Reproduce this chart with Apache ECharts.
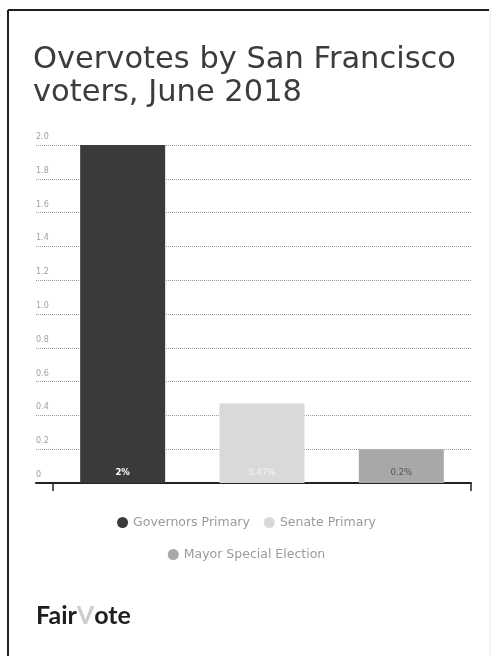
<!DOCTYPE html>
<html>
<head>
<meta charset="utf-8">
<script src="https://cdn.jsdelivr.net/npm/echarts@6/dist/echarts.min.js"></script>
<style>
  html, body { margin: 0; padding: 0; background: #fff; }
  #chart { width: 493px; height: 656px; }
</style>
</head>
<body>
<div id="chart"></div>
<script>
// Overvotes by contest, San Francisco, June 2018 (percent of ballots)
const categories = ['Governors Primary', 'Senate Primary', 'Mayor Special Election'];
const overvotePct = [2, 0.47, 0.2];
const barColors = ['#3b3b3b', '#d9d9d9', '#a8a8a8'];
const labelColors = ['#ffffff', '#f4f4f4', '#555555'];
const yMin = 0, yMax = 2, yStep = 0.2;

const FONT = '"DejaVu Sans", "Noto Sans", sans-serif';
const LOGO_FONT = 'Lato, "Noto Sans", sans-serif';

const chart = echarts.init(document.getElementById('chart'), null, { renderer: 'canvas' });

// one series per contest so each gets its own legend entry; stacked so they share the band
const series = categories.map((name, i) => ({
  name,
  type: 'bar',
  xAxisIndex: 1,
  yAxisIndex: 1,
  stack: 'contests',
  barWidth: 85,
  itemStyle: { color: barColors[i] },
  label: {
    show: true,
    position: 'insideBottom',
    distance: 6,
    color: labelColors[i],
    fontFamily: FONT,
    fontSize: 8.5,
    fontWeight: i === 0 ? 'bold' : 'normal',
    formatter: p => p.value + '%'
  },
  data: categories.map((_, j) => (j === i ? overvotePct[i] : '-'))
}));

const legendText = { fontFamily: FONT, fontSize: 12.5, color: '#9a9a9a' };

const option = {
  backgroundColor: '#ffffff',
  animation: false,
  title: [
    {
      text: 'Overvotes by San Francisco\nvoters, June 2018',
      left: 28,
      top: 39,
      textStyle: {
        fontFamily: FONT,
        fontWeight: 'normal',
        fontSize: 30.5,
        lineHeight: 33,
        color: '#3c3c3c'
      }
    },
    {
      text: '{a|Fair}{b|V}{a|ote}',
      left: 31,
      top: 598,
      textStyle: {
        rich: {
          a: { fontFamily: LOGO_FONT, fontWeight: 'bold', fontSize: 25, color: '#1e1e1e' },
          b: { fontFamily: LOGO_FONT, fontWeight: 'bold', fontSize: 25, color: '#c9cec9' }
        }
      }
    }
  ],
  legend: [
    {
      data: categories.slice(0, 2),
      top: 511,
      left: 'center',
      icon: 'circle',
      itemWidth: 11,
      itemHeight: 11,
      itemGap: 14,
      textStyle: legendText
    },
    {
      data: categories.slice(2),
      top: 543,
      left: 'center',
      icon: 'circle',
      itemWidth: 11,
      itemHeight: 11,
      textStyle: legendText
    }
  ],
  grid: [
    { left: 36, right: 22, top: 145, bottom: 173, containLabel: false },
    { left: 53, right: 22, top: 145, bottom: 173, containLabel: false }
  ],
  xAxis: [
    {
      gridIndex: 0,
      type: 'value',
      min: 0,
      max: 1,
      axisLine: { show: true, lineStyle: { color: '#222222', width: 2 } },
      axisTick: { show: false },
      axisLabel: { show: false },
      splitLine: { show: false }
    },
    {
      gridIndex: 1,
      type: 'category',
      data: categories,
      axisLine: { show: false },
      axisTick: {
        show: true,
        length: 8,
        interval: i => i === 0,
        lineStyle: { color: '#222222', width: 1.5 }
      },
      axisLabel: { show: false },
      splitLine: { show: false }
    }
  ],
  yAxis: [
    {
      gridIndex: 0,
      type: 'value',
      min: yMin,
      max: yMax,
      interval: yStep,
      axisLine: { show: false },
      axisTick: { show: false },
      axisLabel: {
        inside: true,
        margin: 0,
        verticalAlign: 'bottom',
        padding: [0, 0, 4, 0],
        color: '#a0a0a0',
        fontFamily: FONT,
        fontSize: 8,
        formatter: v => (v === 0 ? '0' : v.toFixed(1))
      },
      splitLine: { show: true, lineStyle: { color: '#9a9a9a', type: 'dotted', width: 1 } }
    },
    {
      gridIndex: 1,
      type: 'value',
      min: yMin,
      max: yMax,
      interval: yStep,
      show: false,
      splitLine: { show: false }
    }
  ],
  series,
  graphic: [
    // card frame
    { type: 'line', shape: { x1: 8, y1: 10, x2: 489, y2: 10 }, style: { stroke: '#1f1f1f', lineWidth: 2 } },
    { type: 'line', shape: { x1: 8, y1: 10, x2: 8, y2: 656 }, style: { stroke: '#1f1f1f', lineWidth: 2 } },
    { type: 'line', shape: { x1: 490, y1: 10, x2: 490, y2: 656 }, style: { stroke: '#e6e6e6', lineWidth: 1 } }
  ]
};

chart.setOption(option);
</script>
</body>
</html>
